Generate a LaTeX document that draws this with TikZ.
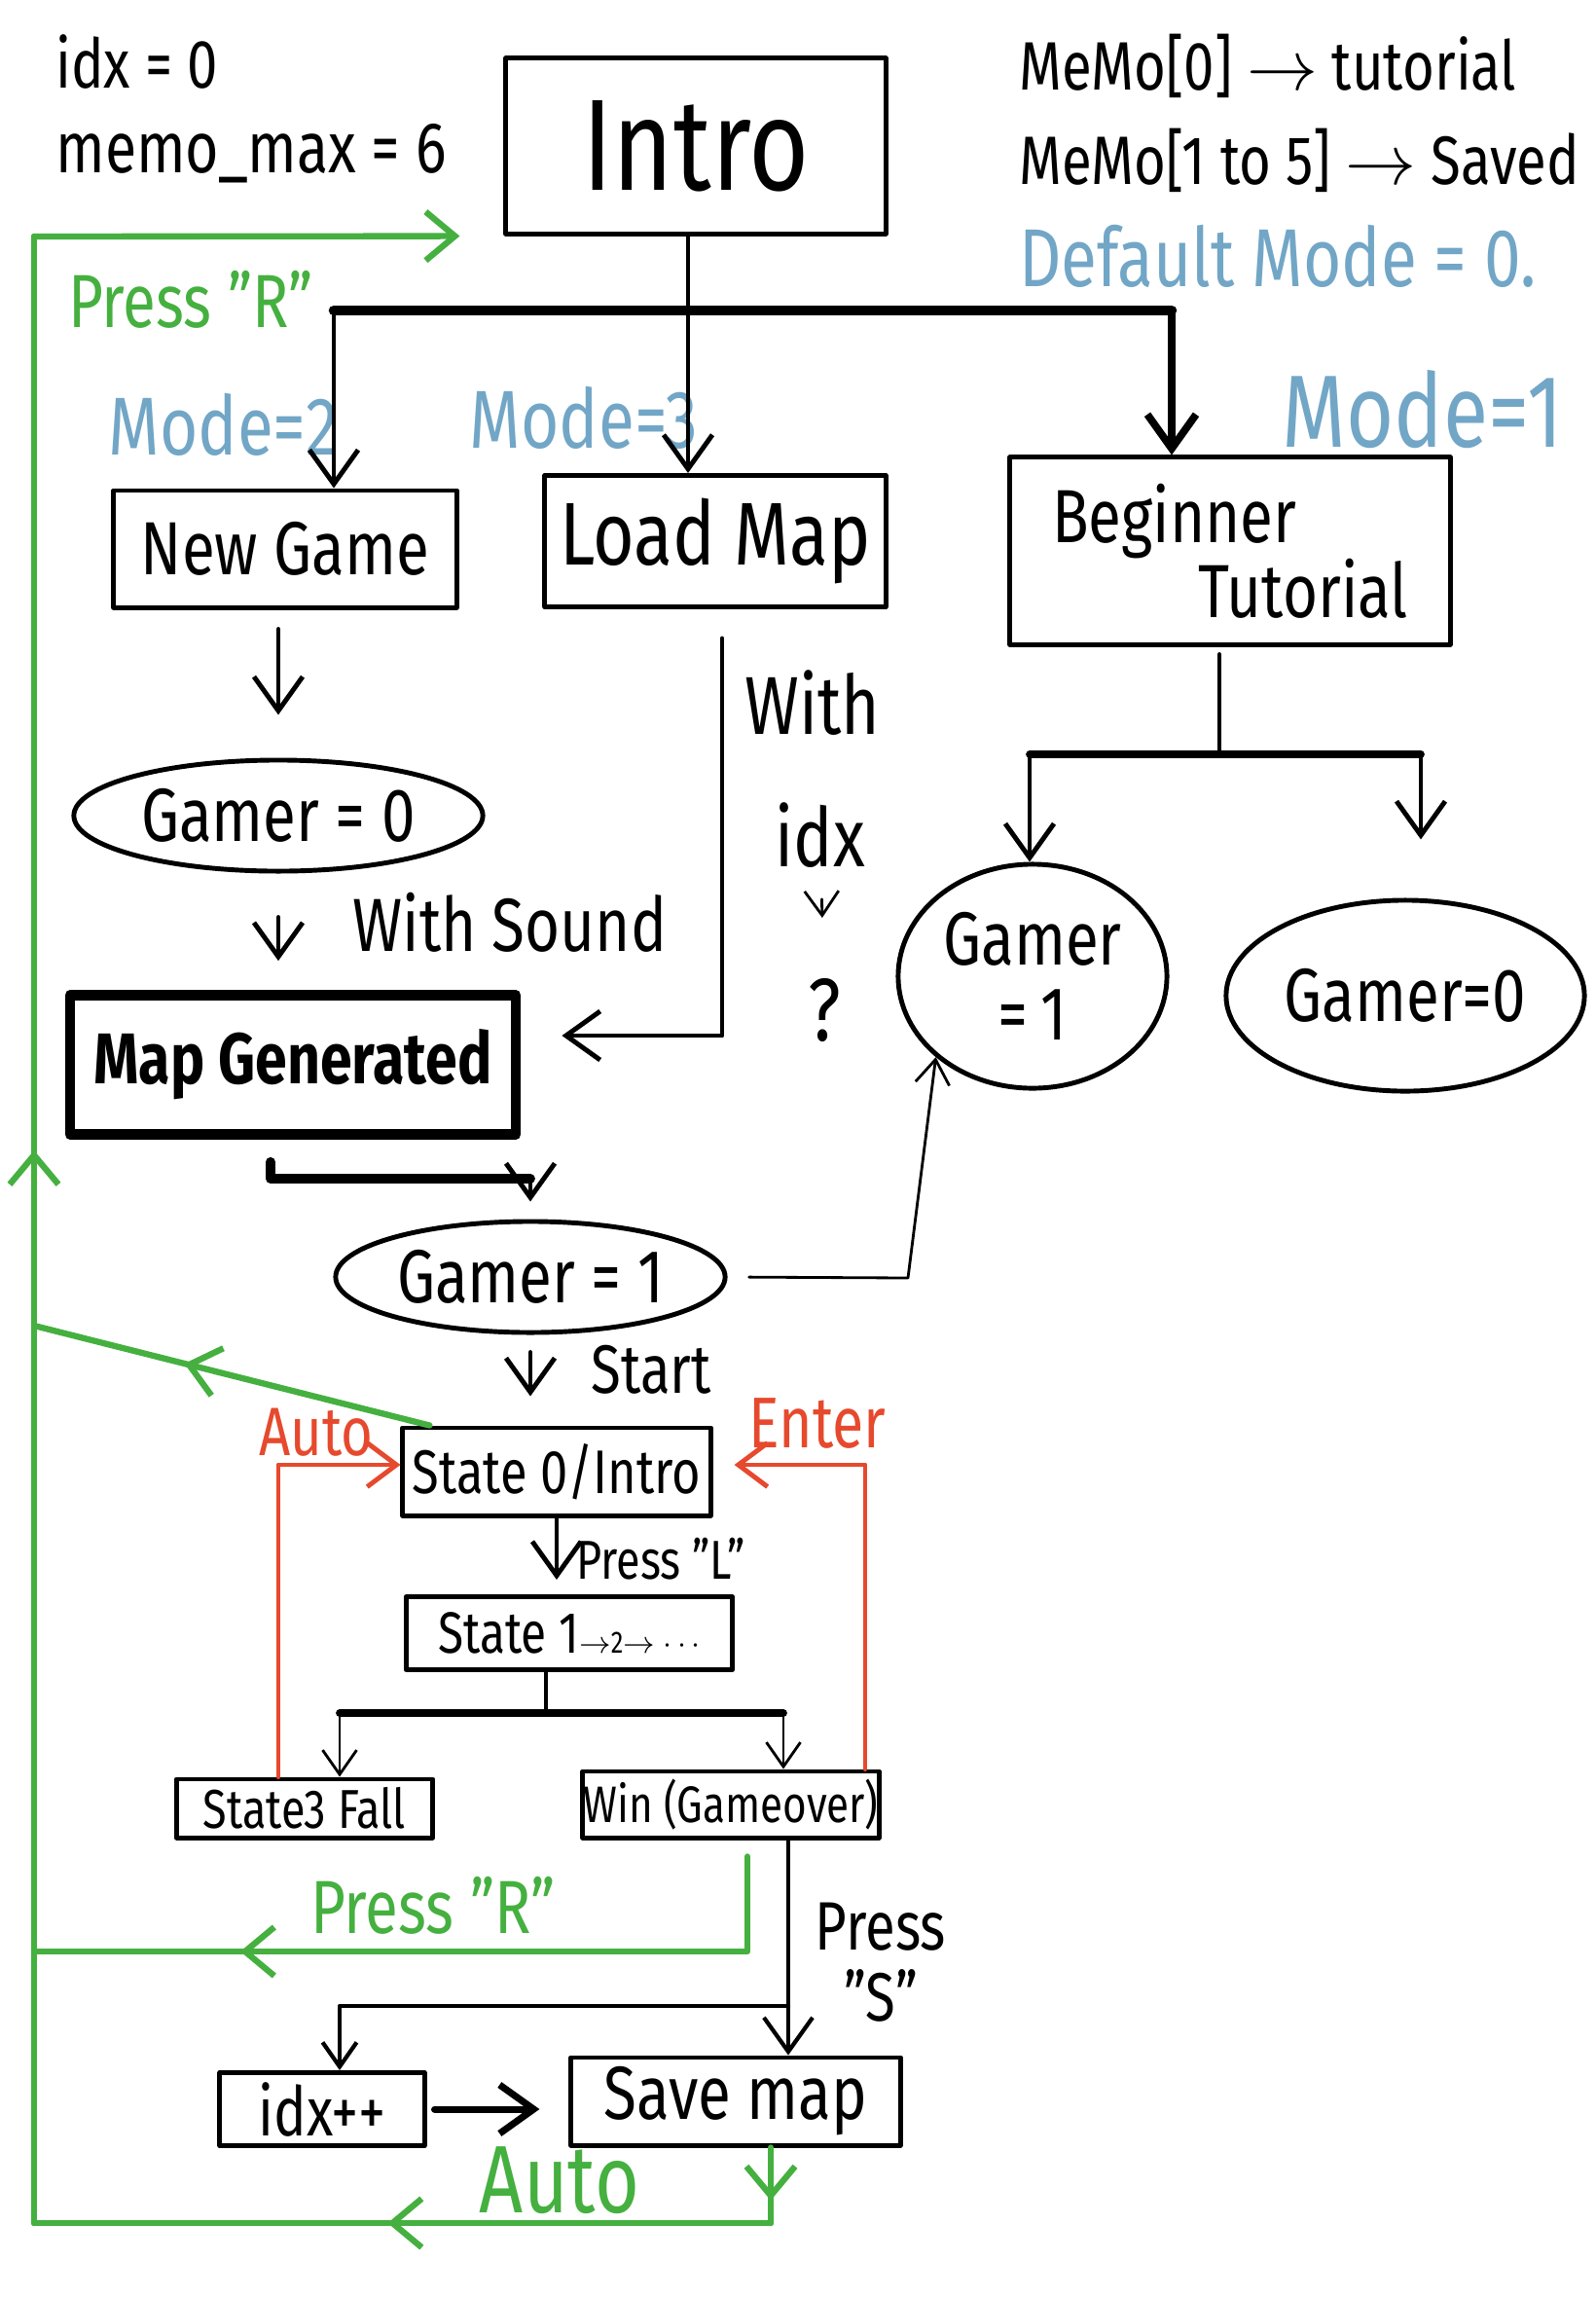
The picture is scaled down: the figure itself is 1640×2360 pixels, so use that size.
\documentclass[tikz,border=0pt]{standalone}
\usepackage{fontspec}
\setmainfont{Fira Sans}[FakeStretch=0.8]
\usetikzlibrary{arrows.meta,shapes.geometric,decorations.markings}
\definecolor{chalkblue}{HTML}{72A6C6}
\definecolor{chalkgreen}{HTML}{45B03F}
\definecolor{chalkred}{HTML}{E6492D}
\begin{document}
\begin{tikzpicture}[x=0.01cm,y=-0.01cm,line cap=round,line join=round,
  fs/.style={font=\fontsize{#1}{#1}\selectfont},
  box/.style={draw,line width=1.4pt,inner sep=0pt},
  ell/.style={draw,ellipse,line width=1.4pt,inner sep=0pt},
  arr/.style={line width=1.4pt,-{Straight Barb[length=3.5mm,width=5mm]}},
  thinarr/.style={line width=0.8pt,-{Straight Barb[length=2.5mm,width=3.5mm]}},
  redarr/.style={chalkred,line width=1.4pt,-{Straight Barb[length=3mm,width=4.5mm]}},
  gline/.style={chalkgreen,line width=1.8pt},
  midtip/.style={postaction=decorate,decoration={markings,
    mark=at position #1 with {\arrow{Straight Barb[length=3mm,width=5mm]}}}}]
\useasboundingbox (0,0) rectangle (1640,2360);
\node[fs=20,anchor=west] (idx) at (45,63) {idx = 0};
\node[fs=21,anchor=west] (memomax) at (45,158) {memo\_max = 6};
\node[fs=20,anchor=west] (memo0) at (1035,68) {MeMo[0] $\rightarrow$ tutorial};
\node[fs=20,anchor=west] (memo15) at (1035,165) {MeMo[1 to 5] $\rightarrow$ Saved};
\node[fs=24,anchor=west,chalkblue] (defmode) at (1035,263) {Default Mode = 0.};
\node[box,minimum width=3.9cm,minimum height=1.8cm,fs=38] (intro) at (715,150) {Intro};
\coordinate (gtop) at (35,243);
\draw[gline,-{Straight Barb[length=3mm,width=5mm]},shorten >=4.5mm] (gtop) -- (intro.south west);
\node[fs=22,chalkgreen] (pressrtop) at (196,308) {Press "R"};
\coordinate (modesplit) at (707,319);
\coordinate (m2) at (343,319); \coordinate (m1) at (1204,319);
\node[fs=24,chalkblue] (mode2) at (230,436) {Mode=2};
\node[fs=24,chalkblue] (mode3) at (600,429) {Mode=3};
\node[fs=30,chalkblue] (mode1) at (1462,421) {Mode=1};
\node[box,minimum width=3.52cm,minimum height=1.2cm,fs=22] (newgame) at (293,564) {New Game};
\node[box,minimum width=3.5cm,minimum height=1.35cm,fs=26] (loadmap) at (735,556) {Load Map};
\node[box,minimum width=4.52cm,minimum height=1.92cm,fs=22,align=left] (beginner) at (1264,566) {Beginner\\\hspace{1.5cm}Tutorial};
\draw[line width=1.4pt] (intro.south -| modesplit) -- (modesplit);
\draw[line width=3pt] (m2) -- (m1);
\draw[arr] (m2) -- (m2 |- newgame.north);
\draw[arr] (modesplit) -- (modesplit |- loadmap.north);
\draw[arr,line width=2.2pt] (m1) -- (m1 |- beginner.north);
\node[ell,minimum width=4.2cm,minimum height=1.14cm,fs=22] (gamerA) at (286,838) {Gamer = 0};
\draw[arr,shorten <=2mm,shorten >=4.4mm] (newgame.south -| gamerA) -- (gamerA.north);
\node[box,line width=3pt,minimum width=4.58cm,minimum height=1.43cm,fs=21] (mapgen) at (301,1094) {\bfseries Map Generated};
\draw[arr,shorten <=4.5mm,shorten >=3mm] (gamerA.south) -- (gamerA.south |- mapgen.north);
\node[fs=22,anchor=west] (sound) at (350,948) {With Sound};
\coordinate (lmturn) at (742,1064);
\draw[arr,shorten <=3mm,shorten >=4.2mm] (loadmap.south -| lmturn) -- (lmturn) -- (mapgen.east |- lmturn);
\node[fs=24] (with) at (835,722) {With};
\node[fs=24] (idxq) at (843,858) {idx};
\node[fs=26] (qmark) at (847,1038) {?};
\draw[thinarr,shorten <=2mm,shorten >=5mm] (idxq) -- (qmark);
\node[ell,minimum width=2.76cm,minimum height=2.3cm,fs=22,align=center] (gamerC) at (1061,1003) {Gamer\\=\,1};
\node[ell,minimum width=3.68cm,minimum height=1.96cm,fs=22] (gamerD) at (1444,1023) {Gamer=0};
\coordinate (bsplit) at (1253,775);
\coordinate (b0) at (1058,775); \coordinate (b1) at (1460,775);
\draw[line width=1.4pt,shorten <=0.8mm] (beginner.south -| bsplit) -- (bsplit);
\draw[line width=2.2pt] (b0) -- (b1);
\draw[arr] (b0) -- (b0 |- gamerC.north);
\draw[arr,shorten >=6mm] (b1) -- (b1 |- gamerD.north);
\node[ell,minimum width=4cm,minimum height=1.14cm,fs=22] (gamerB) at (545,1312) {Gamer = 1};
\coordinate (mgturn) at (278,1211);
\draw[line width=2.8pt,shorten <=2.3mm] (mapgen.south -| mgturn) -- (mgturn) -- (mgturn -| gamerB.north);
\draw[arr,shorten >=1.8mm] (mgturn -| gamerB.north) -- (gamerB.north);
\coordinate (g1turn) at (933,1313);
\draw[thinarr,shorten <=2.2mm] (gamerB.east) -- (g1turn) -- (gamerC.south west);
\node[box,minimum width=3.16cm,minimum height=0.9cm,fs=18] (state0) at (572,1512) {State 0/Intro};
\draw[arr,shorten <=1.8mm,shorten >=3mm] (gamerB.south) -- (gamerB.south |- state0.north);
\node[fs=20,anchor=west] (start) at (595,1407) {Start};
\node[box,minimum width=3.35cm,minimum height=0.75cm,fs=17] (state1) at (585,1678) {State 1{\small$\to$2$\to\cdots$}};
\draw[arr,shorten >=1.5mm] (state0.south) -- (state0.south |- state1.north);
\node[fs=16,anchor=west] (pressl) at (580,1602) {Press "L"};
\node[box,minimum width=2.63cm,minimum height=0.6cm,fs=16] (fall) at (313,1858) {State3 Fall};
\node[box,minimum width=3.04cm,minimum height=0.68cm,fs=15] (win) at (751,1854) {Win (Gameover)};
\coordinate (s1split) at (561,1760);
\coordinate (sl) at (349,1760); \coordinate (sr) at (805,1760);
\draw[line width=1.2pt] (state1.south -| s1split) -- (s1split);
\draw[line width=2.2pt] (sl) -- (sr);
\draw[thinarr] (sl) -- (sl |- fall.north);
\draw[thinarr] (sr) -- (sr |- win.north);
\coordinate (autoturn) at (286,1505);
\draw[redarr] (fall.north -| autoturn) -- (autoturn) -- (state0.west |- autoturn);
\node[fs=20,chalkred] (autored) at (325,1472) {Auto};
\coordinate (enterturn) at (889,1505);
\draw[redarr,shorten >=2.2mm] (win.north -| enterturn) -- (enterturn) -- (state0.east |- enterturn);
\node[fs=21,chalkred] (enter) at (840,1462) {Enter};
\coordinate (gjoin) at (35,1362);
\draw[gline,midtip=0.62] ([xshift=3mm]state0.north west) -- (gjoin);
\coordinate (prturn) at (768,2005); \coordinate (prjoin) at (35,2005);
\draw[gline,midtip=0.75,shorten <=1.7mm] (win.south -| prturn) -- (prturn) -- (prjoin);
\node[fs=22,chalkgreen] (pressrlow) at (445,1958) {Press "R"};
\node[box,minimum width=2.1cm,minimum height=0.75cm,fs=20] (idxpp) at (331,2167) {idx++};
\node[box,minimum width=3.38cm,minimum height=0.9cm,fs=22] (savemap) at (756,2159) {Save map};
\coordinate (sturn) at (810,2061); \coordinate (iturn) at (349,2061);
\draw[line width=1.2pt] (win.south -| sturn) -- (sturn);
\draw[arr,line width=1.2pt] (sturn) -- (sturn |- savemap.north);
\draw[thinarr,line width=1.2pt] (sturn) -- (iturn) -- (iturn |- idxpp.north);
\node[fs=20] (presss) at (905,1980) {Press};
\node[fs=20] (squote) at (905,2050) {"S"};
\draw[arr,line width=2pt,shorten <=0.8mm,shorten >=3mm] (idxpp.east) -- (savemap.west |- idxpp.east);
\coordinate (aturn) at (792,2284); \coordinate (gbot) at (35,2284);
\draw[gline,midtip=0.7] (savemap.south -| aturn) -- (aturn);
\draw[gline,midtip=0.52] (aturn) -- (gbot);
\draw[gline,midtip=0.54] (gbot) -- (gtop);
\node[fs=28,chalkgreen] (autogreen) at (575,2240) {Auto};
\end{tikzpicture}
\end{document}
